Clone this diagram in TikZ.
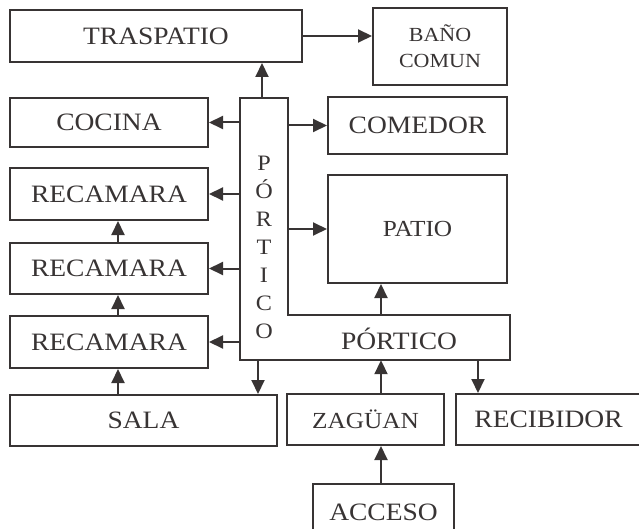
\documentclass[tikz,border=0pt]{standalone}
\usepackage{fontspec}
\setmainfont{Liberation Serif}[FakeStretch=1.1]
\usetikzlibrary{arrows.meta}
\definecolor{ink}{HTML}{383434}
\begin{document}
\begin{tikzpicture}[x=1pt,y=-1pt,
  room/.style={draw=ink, line width=2pt, text=ink, inner sep=0pt, align=center},
  conn/.style={draw=ink, line width=2pt, -{Triangle[length=14pt,width=13pt]}},
  big/.style={font=\fontsize{25}{28}\selectfont},
  mid/.style={font=\fontsize{23}{28}\selectfont},
  small/.style={font=\fontsize{20}{26}\selectfont}]
\useasboundingbox (0,0) rectangle (639,529);
% rooms
\node[room, big, minimum width=292, minimum height=52] (traspatio) at (156,36) {TRASPATIO};
\node[room, small, minimum width=134, minimum height=77] (bano) at (440,46.5) {BAÑO\\COMUN};
\node[room, big, minimum width=198, minimum height=49] (cocina) at (109,122.5) {COCINA};
\node[room, big, minimum width=179, minimum height=57] (comedor) at (417.5,125.5) {COMEDOR};
\node[room, big, minimum width=198, minimum height=52] (recamara1) at (109,194) {RECAMARA};
\node[room, mid, minimum width=179, minimum height=108] (patio) at (417.5,229) {PATIO};
\node[room, big, minimum width=198, minimum height=51] (recamara2) at (109,268.5) {RECAMARA};
\node[room, big, minimum width=198, minimum height=52] (recamara3) at (109,342) {RECAMARA};
\node[room, big, minimum width=267, minimum height=51] (sala) at (143.5,420.5) {SALA};
\node[room, mid, minimum width=157, minimum height=51] (zaguan) at (365.5,419.5) {ZAGÜAN};
\node[room, big, minimum width=185, minimum height=51] (recibidor) at (548.5,419.5) {RECIBIDOR};
\node[room, big, minimum width=141, minimum height=56] (acceso) at (383.5,512) {ACCESO};
% portico
\node[minimum width=48, minimum height=262, inner sep=0pt] (portV) at (264,229) {};
\node[minimum width=270, minimum height=45, inner sep=0pt] (portH) at (375,337.5) {};
\draw[ink, line width=2pt] (portV.north west) -- (portV.north east) |- (portH.north east)
  -- (portH.south east) -- (portH.south west) -- cycle;
\node[text=ink, align=center, font=\fontsize{22}{28}\selectfont] (portVtext) at (264,247)
  {P\\Ó\\R\\T\\I\\C\\O};
\node[text=ink, big] (portHtext) at (399,339) {PÓRTICO};
% columns
\coordinate (colA) at (118,0);
\coordinate (colB) at (381,0);
\coordinate (colC) at (262,0);
\coordinate (colD) at (258,0);
\coordinate (colE) at (478,0);
% arrows
\draw[conn] (portV.north -| colC) -- (traspatio.south -| colC);
\draw[conn] (traspatio.east) -- (traspatio.east -| bano.west);
\draw[conn] (portV.west |- cocina) -- (cocina.east);
\draw[conn] (portV.west |- recamara1) -- (recamara1.east);
\draw[conn] (portV.west |- recamara2) -- (recamara2.east);
\draw[conn] (portV.west |- recamara3) -- (recamara3.east);
\draw[conn] (portV.east |- comedor) -- (comedor.west);
\draw[conn] (portV.east |- patio) -- (patio.west);
\draw[conn] (portH.north -| colB) -- (patio.south -| colB);
\draw[conn] (zaguan.north -| colB) -- (portH.south -| colB);
\draw[conn] (acceso.north -| colB) -- (zaguan.south -| colB);
\draw[conn] (portV.south -| colD) -- (sala.north -| colD);
\draw[conn] (portH.south -| colE) -- (recibidor.north -| colE);
\draw[conn] (recamara2.north -| colA) -- (recamara1.south -| colA);
\draw[conn] (recamara3.north -| colA) -- (recamara2.south -| colA);
\draw[conn] (sala.north -| colA) -- (recamara3.south -| colA);
\end{tikzpicture}
\end{document}
